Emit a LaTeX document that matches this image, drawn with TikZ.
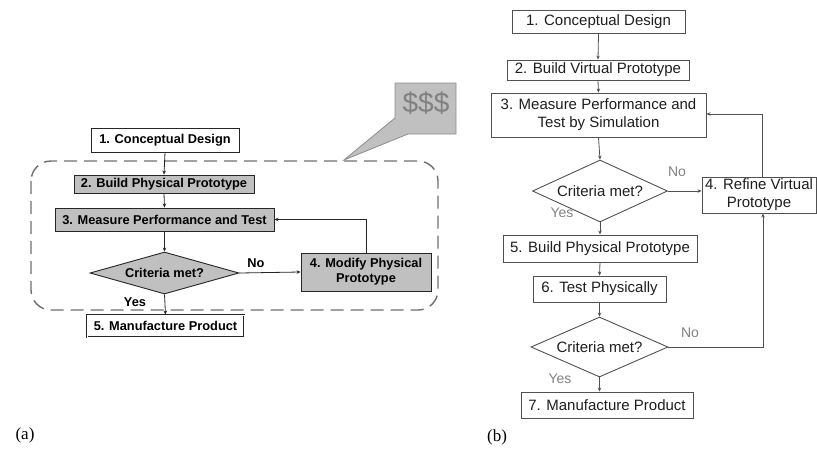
\documentclass[tikz,border=0pt]{standalone}
\usepackage{fontspec}
\setmainfont{Liberation Sans}
\newfontfamily\capfont{Liberation Serif}
\usetikzlibrary{arrows.meta,shapes.geometric}
\definecolor{boxgray}{RGB}{192,192,192}
\definecolor{dashgray}{RGB}{110,110,110}
\definecolor{linegray}{RGB}{80,80,80}
\definecolor{txtb}{RGB}{30,30,30}
\definecolor{lblgray}{RGB}{130,130,130}
\begin{document}
\begin{tikzpicture}[x=1pt,y=-1pt,
  abox/.style={draw=black!85,line width=0.9pt,inner sep=0pt,align=center,
    font=\fontsize{12.8}{15}\selectfont\bfseries},
  agray/.style={abox,fill=boxgray},
  adia/.style={abox,fill=boxgray,shape=diamond,aspect=3.5},
  bbox/.style={draw=linegray,line width=0.9pt,inner sep=0pt,align=center,text=txtb,
    font=\fontsize{15}{18}\selectfont},
  bdia/.style={bbox,shape=diamond,aspect=2.2},
  aarr/.style={draw=black!85,line width=0.8pt,-{Stealth[length=4pt,width=3.5pt]}},
  barr/.style={draw=linegray,line width=0.8pt,-{Stealth[length=4pt,width=3.5pt]}},
  alab/.style={font=\fontsize{12.8}{15}\selectfont\bfseries},
  blab/.style={font=\fontsize{14}{16}\selectfont,text=lblgray},
  caplab/.style={font=\capfont\fontsize{17}{19}\selectfont}]
\useasboundingbox (0,0) rectangle (817,450);
% ---------- panel (a) ----------
\draw[dashgray,line width=1.4pt,dash pattern=on 13pt off 7pt,rounded corners=20pt]
  (31,161) rectangle (438,310);
\path[fill=boxgray,draw=black!45,line width=0.8pt]
  (395,83) -- (456,83) -- (456,134) -- (408,134) -- (344,160) -- (395,118) -- cycle;
\node[text=black!50,font=\fontsize{28}{30}\selectfont] (cost) at (426,103) {\$\$\$};

\node[abox,fill=white,minimum width=148pt,minimum height=24pt] (a1) at (165,140) {1. Conceptual Design};
\node[agray,minimum width=180pt,minimum height=18pt] (a2) at (164,184) {2. Build Physical Prototype};
\node[agray,minimum width=219pt,minimum height=23pt] (a3) at (164.5,219.5) {3. Measure Performance and Test};
\node[adia,minimum width=149pt,minimum height=42pt] (ad) at (164.5,273) {Criteria met?};
\node[agray,minimum width=130pt,minimum height=38pt] (a4) at (366,272) {4. Modify Physical\\Prototype};
\node[abox,fill=white,double=white,double distance=0.6pt,minimum width=157pt,minimum height=22pt] (a5) at (165.5,326) {5. Manufacture Product};

\draw[aarr] (a1.south) -- (a2.north);
\draw[aarr] (a2.south) -- (a3.north);
\draw[aarr] (a3.south) -- (ad.north);
\draw[aarr] (ad.south) -- (a5.north);
\draw[aarr] (ad.east) -- (a4.west);
\draw[aarr] (a4.north) |- (a3.east);
\node[alab] (ano) at (256,263) {No};
\node[alab] (ayes) at (135,302) {Yes};
\node[caplab] (capa) at (25,435) {(a)};

% ---------- panel (b) ----------
\node[bbox,minimum width=173pt,minimum height=23pt] (b1) at (598.5,21.5) {1. Conceptual Design};
\node[bbox,minimum width=182pt,minimum height=20pt] (b2) at (598,70) {2. Build Virtual Prototype};
\node[bbox,minimum width=215pt,minimum height=44pt] (b3) at (598.5,115) {3. Measure Performance and\\Test by Simulation};
\node[bdia,minimum width=135pt,minimum height=62pt] (bd1) at (600,191) {Criteria met?};
\node[bbox,minimum width=114pt,minimum height=36pt] (b4) at (759,195) {4. Refine Virtual\\Prototype};
\node[bbox,minimum width=194pt,minimum height=27pt] (b5) at (600,248.5) {5. Build Physical Prototype};
\node[bbox,minimum width=133pt,minimum height=26pt] (b6) at (599.5,289) {6. Test Physically};
\node[bdia,minimum width=137pt,minimum height=60pt] (bd2) at (599.5,347) {Criteria met?};
\node[bbox,minimum width=172pt,minimum height=26pt] (b7) at (607,405) {7. Manufacture Product};
\coordinate (bturn) at (763,347);
\coordinate (btop) at (762,114);

\draw[barr] (b1.south) -- (b2.north);
\draw[barr] (b2.south) -- (b3.north);
\draw[barr] (b3.south) -- (bd1.north);
\draw[barr] (bd1.east) -- (bd1.east -| b4.west);
\draw[barr] (bd1.south) -- (b5.north);
\draw[barr] (b5.south) -- (b6.north);
\draw[barr] (b6.south) -- (bd2.north);
\draw[barr] (bd2.south) -- (bd2.south |- b7.north);
\draw[barr] (bd2.east) -- (bturn) -- (bturn |- b4.south);
\draw[barr] (btop |- b4.north) -- (btop) -- (btop -| b3.east);
\node[blab] (bno1) at (677,172) {No};
\node[blab] (byes1) at (562,213) {Yes};
\node[blab] (bno2) at (690,333) {No};
\node[blab] (byes2) at (560,379) {Yes};
\node[caplab] (capb) at (497,437) {(b)};
\end{tikzpicture}
\end{document}
